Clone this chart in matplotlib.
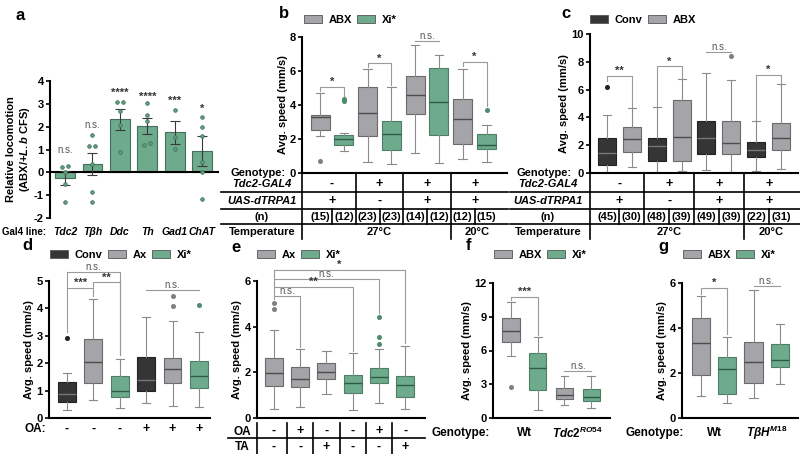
import matplotlib.pyplot as plt
import matplotlib.transforms as mtransforms
from matplotlib.patches import Patch
import numpy as np

plt.rcParams["font.family"] = ["Liberation Sans", "DejaVu Sans"]
plt.rcParams["font.weight"] = "bold"
plt.rcParams["axes.labelweight"] = "bold"
plt.rcParams["axes.unicode_minus"] = False
plt.rcParams["mathtext.fontset"] = "custom"
plt.rcParams["mathtext.it"] = "Liberation Sans:italic:bold"
plt.rcParams["mathtext.rm"] = "Liberation Sans:bold"
plt.rcParams["mathtext.bf"] = "Liberation Sans:bold"

GRAY = "#a4a4a9"
GREEN = "#6dab8c"
DARK = "#353535"

# ---- panel a: relative locomotion per Gal4 line
a_lines = ["Tdc2", "Tβh", "Ddc", "Th", "Gad1", "ChAT"]
a_mean = [-0.25, 0.35, 2.32, 2.03, 1.75, 0.93]
a_sem = [0.30, 0.48, 0.45, 0.35, 0.50, 0.67]
a_points = [
    [0.27, 0.22, 0.02, -0.50, -1.30],
    [1.63, 1.17, 1.17, 0.35, -0.85, -1.28],
    [3.09, 3.09, 2.69, 2.07, 0.88],
    [3.05, 2.51, 2.26, 1.27, 1.20],
    [2.73, 1.56, 1.02],
    [2.41, 2.00, 1.60, 0.44, 0.00, -1.18],
]
a_sig = ["n.s.", "n.s.", "****", "****", "***", "*"]
a_sig_y = [0.75, 1.85, 3.25, 3.1, 2.9, 2.55]

# ---- box stats: [whisker low, q1, median, q3, whisker high]
b_abx_box = [[2.15, 2.54, 3.28, 3.41, 4.68], [0.64, 2.20, 3.51, 5.03, 6.09],
             [1.17, 3.47, 4.60, 5.72, 7.55], [0.84, 1.72, 3.16, 4.35, 6.09]]
b_abx_out = [[0.72], [], [], []]
b_xi_box = [[1.27, 1.62, 2.00, 2.24, 2.34], [0.55, 1.33, 2.28, 3.06, 5.03],
            [0.59, 2.24, 4.15, 6.15, 6.97], [0.64, 1.40, 1.62, 2.28, 2.83]]
b_xi_out = [[4.25, 4.35], [], [], [3.70]]
b_gal4 = ["-", "+", "+", "+"]
b_uas = ["+", "-", "+", "+"]
b_n = [15, 12, 23, 23, 14, 12, 12, 15]
b_sig = [(0, 1, 5.05, "*", 4.85, 4.55), (2, 3, 6.45, "*", 6.25, 5.2),
         (4, 5, 7.75, "n.s.", None, None), (6, 7, 6.55, "*", 6.3, 3.95)]

c_conv_box = [[0.07, 0.55, 1.44, 2.52, 4.20], [0.05, 0.84, 1.92, 2.52, 4.72],
              [0.24, 1.39, 2.52, 3.77, 7.19], [0.12, 1.13, 1.68, 2.23, 3.72]]
c_conv_out = [[6.19], [], [], []]
c_abx_box = [[0.41, 1.49, 2.45, 3.31, 4.68], [0.12, 0.84, 2.59, 5.28, 6.76],
             [0.05, 1.37, 2.16, 3.72, 6.71], [0.29, 1.63, 2.52, 3.60, 6.43]]
c_abx_out = [[], [], [8.44], []]
c_gal4 = ["-", "+", "+", "+"]
c_uas = ["+", "-", "+", "+"]
c_n = [45, 30, 48, 39, 49, 39, 22, 31]
c_sig = [(0, 1, 7.0, "**", 6.6, 4.75), (2, 3, 7.67, "*", 4.75, 6.8),
         (4, 5, 8.7, "n.s.", None, None), (6, 7, 7.07, "*", 3.75, 6.5)]
temps = ["27°C", "20°C"]

d_conv_box = [[0.30, 0.58, 0.87, 1.30, 1.64], [0.54, 0.99, 1.39, 2.24, 3.67]]
d_conv_out = [[2.93], []]
d_ax_box = [[0.67, 1.27, 2.03, 2.88, 4.36], [0.42, 1.27, 1.78, 2.18, 3.54]]
d_ax_out = [[], [4.08, 4.45]]
d_xi_box = [[0.36, 0.75, 0.99, 1.54, 2.15], [0.40, 1.09, 1.55, 2.09, 3.15]]
d_xi_out = [[], [4.14]]
d_oa = ["-", "-", "-", "+", "+", "+"]
d_sig = [(0, 2, 5.33, "n.s.", 3.15, 2.3), (0, 1, 4.75, "***", None, 4.45),
         (1, 2, 4.95, "**", 4.75, 2.3), (3, 5, 4.67, "n.s.", None, None)]

e_ax_box = [[0.39, 1.41, 1.96, 2.62, 3.87], [0.46, 1.35, 1.70, 2.22, 3.04],
            [1.06, 1.70, 2.00, 2.43, 2.94]]
e_ax_out = [[4.78, 5.04], [], []]
e_xi_box = [[0.36, 1.09, 1.52, 1.88, 2.86], [0.65, 1.52, 1.81, 2.17, 3.04],
            [0.39, 0.91, 1.43, 1.86, 3.16]]
e_xi_out = [[], [3.26, 3.55, 4.42], []]
e_oa = ["-", "+", "-", "-", "+", "-"]
e_ta = ["-", "-", "+", "-", "-", "+"]
e_sig = [(0, 1, 5.36, "n.s.", None, 3.1), (0, 3, 5.75, "**", None, 2.95),
         (0, 4, 6.07, "n.s.", None, 4.6), (0, 5, 6.5, "*", 5.2, 3.3)]

f_abx_box = [[5.50, 6.76, 7.70, 8.88, 10.30], [1.18, 1.68, 2.06, 2.70, 3.76]]
f_abx_out = [[2.74], []]
f_xi_box = [[0.68, 2.50, 4.41, 5.82, 7.20], [0.88, 1.53, 1.91, 2.59, 3.74]]
f_xi_out = [[], []]
f_geno = ["Wt", r"$\mathit{Tdc2}^{\mathit{RO54}}$"]
f_sig = [(0, 1, 10.8, "***", 10.45, 7.4), (2, 3, 4.2, "n.s.", None, None)]

g_abx_box = [[0.97, 1.93, 3.33, 4.45, 5.41], [0.87, 1.55, 2.51, 3.38, 5.70]]
g_abx_out = [[], []]
g_xi_box = [[0.68, 1.06, 2.17, 2.72, 3.62], [1.52, 2.28, 2.58, 3.30, 4.17]]
g_xi_out = [[], []]
g_geno = ["Wt", r"$\mathit{TβH}^{\mathit{M18}}$"]
g_sig = [(0, 1, 5.78, "*", 5.5, 3.75), (2, 3, 5.85, "n.s.", None, None)]

W, H = 800, 454
fig = plt.figure(figsize=(8, 4.54), dpi=100)
fig.patch.set_facecolor("white")

ov = fig.add_axes([0, 0, 1, 1], zorder=10)
ov.set_xlim(0, W)
ov.set_ylim(H, 0)
ov.axis("off")
ov.patch.set_alpha(0)


def add_ax(x0, y_top, x1, y_bot):
    return fig.add_axes([x0 / W, 1 - y_bot / H, (x1 - x0) / W, (y_bot - y_top) / H])


def style_axis(ax, xlim, ylim, yticks, ylabel, labelpad):
    ax.set_xlim(*xlim)
    ax.set_ylim(*ylim)
    ax.set_yticks(yticks)
    ax.set_xticks([])
    ax.spines[["top", "right"]].set_visible(False)
    ax.spines["left"].set_linewidth(1.5)
    ax.spines["bottom"].set_linewidth(1.5)
    ax.tick_params(axis="y", length=3, width=1.2, pad=1.5, labelsize=8)
    plt.setp(ax.get_yticklabels(), fontweight="bold")
    ax.set_ylabel(ylabel, fontsize=8, fontweight="bold", labelpad=labelpad)
    ax.patch.set_alpha(0)


def draw_boxes(ax, boxes, outliers, positions, face, edge, median, dot, width):
    stats = [dict(whislo=b[0], q1=b[1], med=b[2], q3=b[3], whishi=b[4], fliers=o)
             for b, o in zip(boxes, outliers)]
    ax.bxp(stats, positions=positions, widths=width, capwidths=width * 0.45,
           patch_artist=True, showfliers=True, manage_ticks=False,
           boxprops=dict(facecolor=face, edgecolor=edge, linewidth=0.8),
           medianprops=dict(color=median, linewidth=1.0),
           whiskerprops=dict(color="#8a8a8a", linewidth=0.8),
           capprops=dict(color="#8a8a8a", linewidth=0.8),
           flierprops=dict(marker="o", markersize=2.6, markerfacecolor=dot,
                           markeredgecolor=dot))


def draw_sig(ax, sigs):
    for x1, x2, y, label, d1, d2 in sigs:
        xs = [x1, x1, x2, x2]
        ys = [y if d1 is None else d1, y, y, y if d2 is None else d2]
        ax.plot(xs, ys, color="#9a9a9a", linewidth=0.8, clip_on=False)
        if label == "n.s.":
            ax.text((x1 + x2) / 2, y, label, ha="center", va="bottom", fontsize=7,
                    fontweight="normal", color="#555555", clip_on=False)
        else:
            ax.text((x1 + x2) / 2, y, label, ha="center", va="bottom", fontsize=8,
                    color="#333333", clip_on=False)


def add_legend(ax, labels, colors, x, y):
    handles = [Patch(facecolor=c, edgecolor="#555555", linewidth=0.6) for c in colors]
    ax.legend(handles, labels, loc="center left", bbox_to_anchor=(x, y),
              bbox_transform=ov.transData, ncol=len(labels), frameon=False,
              fontsize=8, handlelength=1.6, handleheight=0.65, handletextpad=0.6,
              columnspacing=0.5, borderpad=0, borderaxespad=0)


def spread(vals, tol=0.15, step=0.22):
    order = np.argsort(vals)
    offs = np.zeros(len(vals))
    groups, cur = [], [order[0]]
    for i in order[1:]:
        if vals[i] - vals[cur[-1]] < tol:
            cur.append(i)
        else:
            groups.append(cur)
            cur = [i]
    groups.append(cur)
    for g in groups:
        for k, i in enumerate(g):
            offs[i] = (k - (len(g) - 1) / 2) * step
    return offs


def panel_letter(ch, x, y):
    ov.text(x, y, ch, ha="center", va="center", fontsize=12, fontweight="bold")


# ---- a
ax_a = add_ax(50, 81, 218, 218)
xa = np.arange(len(a_lines))
ax_a.bar(xa, a_mean, width=0.72, color=GREEN, edgecolor="#456f5a", linewidth=0.8, zorder=1)
ax_a.errorbar(xa, a_mean, yerr=a_sem, fmt="none", ecolor="#3a3a3a", elinewidth=0.8,
              capsize=3.5, capthick=0.8, zorder=3)
for i, pts in enumerate(a_points):
    ax_a.scatter(i + spread(np.array(pts)), pts, s=7, color="#5e9e7e",
                 edgecolor="#3f6e57", linewidth=0.5, zorder=4)
for i, lab in enumerate(a_sig):
    ax_a.text(i, a_sig_y[i], lab, ha="center", va="bottom",
              fontsize=7 if lab == "n.s." else 8,
              fontweight="normal" if lab == "n.s." else "bold",
              color="#555555" if lab == "n.s." else "#333333")
style_axis(ax_a, (-0.55, 5.58), (-2, 4), range(-2, 5),
           "Relative locomotion\n(ABX/+$\\mathit{L.b}$ CFS)", 1.5)
ax_a.spines["bottom"].set_position(("data", 0))
ta = mtransforms.blended_transform_factory(ax_a.transData, ov.transData)
for i, lab in enumerate(a_lines):
    ov.text(i, 232, lab, transform=ta, ha="center", va="center", fontsize=7.5,
            style="italic")
ov.text(2, 232, "Gal4 line:", ha="left", va="center", fontsize=7)
panel_letter("a", 20, 15)


# ---- b and c genotype tables
def genotype_table(ax, gal4, uas, ns, label_x, line_x0, line_x1, spine_x):
    tr = mtransforms.blended_transform_factory(ax.transData, ov.transData)
    ov.text(label_x - 4, 173, "Genotype:", ha="center", va="center", fontsize=8)
    ov.text(label_x, 184, "Tdc2-GAL4", ha="center", va="center", fontsize=8, style="italic")
    ov.text(label_x, 201, "UAS-dTRPA1", ha="center", va="center", fontsize=8, style="italic")
    ov.text(label_x, 217, "(n)", ha="center", va="center", fontsize=8)
    ov.text(label_x, 232, "Temperature", ha="center", va="center", fontsize=8)
    for yl in (192, 209, 224):
        ov.plot([line_x0, line_x1], [yl, yl], color="black", linewidth=1.2)
    ov.plot([spine_x, spine_x], [174, 239], transform=tr, color="black", linewidth=1.2)
    for g in range(len(gal4)):
        ov.text(2 * g + 0.5, 184, gal4[g], transform=tr, ha="center", va="center", fontsize=9)
        ov.text(2 * g + 0.5, 201, uas[g], transform=tr, ha="center", va="center", fontsize=9)
        ov.plot([2 * g + 0.5] * 2, [209, 224], transform=tr, color="black", linewidth=1.2)
    for k, n in enumerate(ns):
        ov.text(k, 217, f"({n})", transform=tr, ha="center", va="center", fontsize=8)
    for xd in (1.5, 3.5):
        ov.plot([xd, xd], [174, 224], transform=tr, color="black", linewidth=1.2)
    ov.plot([5.5, 5.5], [174, 239], transform=tr, color="black", linewidth=1.2)
    ov.text(2.5, 232, temps[0], transform=tr, ha="center", va="center", fontsize=8)
    ov.text(6.6, 232, temps[1], transform=tr, ha="center", va="center", fontsize=8)


ax_b = add_ax(302, 37, 507, 173)
draw_boxes(ax_b, b_abx_box, b_abx_out, [0, 2, 4, 6], GRAY, "#6a6a6a", "#4d4d4d", "#808080", 0.8)
draw_boxes(ax_b, b_xi_box, b_xi_out, [1, 3, 5, 7], GREEN, "#4e7f66", "#2f5a45", "#4d8c6c", 0.8)
draw_sig(ax_b, b_sig)
style_axis(ax_b, (-0.76, 7.86), (0, 8), range(0, 9, 2), "Avg. speed (mm/s)", 1)
genotype_table(ax_b, b_gal4, b_uas, b_n, 262, 221, 508, -0.76)
add_legend(ax_b, ["ABX", "Xi*"], [GRAY, GREEN], 304, 20)
panel_letter("b", 284, 14)

ax_c = add_ax(590, 34, 798, 173)
draw_boxes(ax_c, c_conv_box, c_conv_out, [0, 2, 4, 6], DARK, "#222222", "#777777", "#222222", 0.72)
draw_boxes(ax_c, c_abx_box, c_abx_out, [1, 3, 5, 7], GRAY, "#6a6a6a", "#4d4d4d", "#808080", 0.72)
draw_sig(ax_c, c_sig)
style_axis(ax_c, (-0.68, 7.68), (0, 10), range(0, 11, 2), "Avg. speed (mm/s)", 1.5)
genotype_table(ax_c, c_gal4, c_uas, c_n, 548, 510, 800, -0.68)
add_legend(ax_c, ["Conv", "ABX"], [DARK, GRAY], 590, 20)
panel_letter("c", 566, 14)

# ---- d
ax_d = add_ax(49, 281, 210, 418)
draw_boxes(ax_d, d_conv_box, d_conv_out, [0, 3], DARK, "#222222", "#777777", "#222222", 0.67)
draw_boxes(ax_d, d_ax_box, d_ax_out, [1, 4], GRAY, "#6a6a6a", "#4d4d4d", "#808080", 0.67)
draw_boxes(ax_d, d_xi_box, d_xi_out, [2, 5], GREEN, "#4e7f66", "#2f5a45", "#4d8c6c", 0.67)
draw_sig(ax_d, d_sig)
style_axis(ax_d, (-0.68, 5.42), (0, 5), range(0, 6), "Avg. speed (mm/s)", 1.5)
td = mtransforms.blended_transform_factory(ax_d.transData, ov.transData)
ov.text(35, 429, "OA:", ha="center", va="center", fontsize=8.5)
for i, s in enumerate(d_oa):
    ov.text(i, 429, s, transform=td, ha="center", va="center", fontsize=9)
add_legend(ax_d, ["Conv", "Ax", "Xi*"], [DARK, GRAY, GREEN], 50, 255)
panel_letter("d", 27, 246)

# ---- e
ax_e = add_ax(257, 281, 425, 418)
draw_boxes(ax_e, e_ax_box, e_ax_out, [0, 1, 2], GRAY, "#6a6a6a", "#4d4d4d", "#808080", 0.69)
draw_boxes(ax_e, e_xi_box, e_xi_out, [3, 4, 5], GREEN, "#4e7f66", "#2f5a45", "#4d8c6c", 0.69)
draw_sig(ax_e, e_sig)
style_axis(ax_e, (-0.65, 5.76), (0, 6), range(0, 7, 2), "Avg. speed (mm/s)", 1.5)
te = mtransforms.blended_transform_factory(ax_e.transData, ov.transData)
ov.text(242, 432, "OA", ha="center", va="center", fontsize=8.5)
ov.text(242, 447, "TA", ha="center", va="center", fontsize=8.5)
ov.plot([228, 425], [438, 438], color="black", linewidth=1.2)
for xd in [-0.65, 0.5, 1.5, 2.5, 3.5, 4.5]:
    ov.plot([xd, xd], [423, 454], transform=te, color="black", linewidth=1.2)
for i in range(len(e_oa)):
    ov.text(i, 431, e_oa[i], transform=te, ha="center", va="center", fontsize=9)
    ov.text(i, 447, e_ta[i], transform=te, ha="center", va="center", fontsize=9)
add_legend(ax_e, ["Ax", "Xi*"], [GRAY, GREEN], 257, 255)
panel_letter("e", 236, 247)

# ---- f
ax_f = add_ax(493, 283, 610, 418)
draw_boxes(ax_f, f_abx_box, f_abx_out, [0, 2], GRAY, "#6a6a6a", "#4d4d4d", "#808080", 0.65)
draw_boxes(ax_f, f_xi_box, f_xi_out, [1, 3], GREEN, "#4e7f66", "#2f5a45", "#4d8c6c", 0.65)
draw_sig(ax_f, f_sig)
style_axis(ax_f, (-0.67, 3.7), (0, 12), range(0, 13, 3), "Avg. speed (mm/s)", 1.5)
tf = mtransforms.blended_transform_factory(ax_f.transData, ov.transData)
ov.text(461, 433, "Genotype:", ha="center", va="center", fontsize=8.5)
for i, lab in enumerate(f_geno):
    ov.text(2 * i + 0.5, 433, lab, transform=tf, ha="center", va="center", fontsize=8.5)
add_legend(ax_f, ["ABX", "Xi*"], [GRAY, GREEN], 494, 255)
panel_letter("f", 468, 246)

# ---- g
ax_g = add_ax(682, 283, 798, 418)
draw_boxes(ax_g, g_abx_box, g_abx_out, [0, 2], GRAY, "#6a6a6a", "#4d4d4d", "#808080", 0.7)
draw_boxes(ax_g, g_xi_box, g_xi_out, [1, 3], GREEN, "#4e7f66", "#2f5a45", "#4d8c6c", 0.7)
draw_sig(ax_g, g_sig)
style_axis(ax_g, (-0.72, 3.69), (0, 6), range(0, 7, 2), "Avg. speed (mm/s)", 1.5)
tg = mtransforms.blended_transform_factory(ax_g.transData, ov.transData)
ov.text(655, 433, "Genotype:", ha="center", va="center", fontsize=8.5)
for i, lab in enumerate(g_geno):
    ov.text(2 * i + 0.5, 433, lab, transform=tg, ha="center", va="center", fontsize=8.5)
add_legend(ax_g, ["ABX", "Xi*"], [GRAY, GREEN], 683, 255)
panel_letter("g", 663, 246)

fig.savefig("out.png", dpi=100)
